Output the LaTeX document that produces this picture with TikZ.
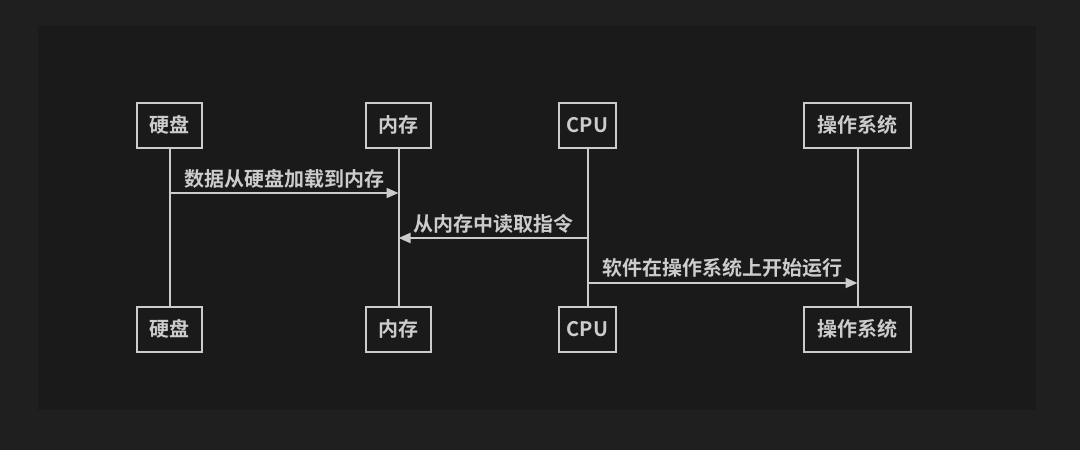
\documentclass[tikz,border=0pt]{standalone}
\usepackage{fontspec}
\newfontfamily\cjk{Noto Sans CJK SC}[BoldFont={Noto Sans CJK SC Bold}]
\usetikzlibrary{positioning,arrows.meta}
\definecolor{bgout}{HTML}{1F1F1F}
\definecolor{bgin}{HTML}{1A1A1A}
\definecolor{ink}{HTML}{CCCCCC}
\tikzset{actor/.style={draw=ink,line width=2pt,fill=bgin,text=ink,minimum height=45pt,inner xsep=0pt,inner ysep=0pt,font=\cjk\bfseries\fontsize{20}{22}\selectfont}}
\tikzset{life/.style={draw=ink,line width=2pt}}
\tikzset{msg/.style={draw=ink,line width=2pt,-{Triangle[length=12pt,width=10pt]}}}
\tikzset{msglabel/.style={above,inner sep=4pt,text=ink,font=\cjk\bfseries\fontsize{20}{22}\selectfont}}

\begin{document}
\begin{tikzpicture}[x=1pt,y=-1pt]
	\fill[bgout] (0,0) rectangle (1080,450);
	\fill[bgin] (38,26) rectangle (1036,410);

	% participants, top row
	\node[actor,minimum width=65pt] (hd) at (169.5,125) {硬盘};
	\node[actor,minimum width=65pt] (mem) at (398.5,125) {内存};
	\node[actor,minimum width=57pt] (cpu) at (587.5,125) {CPU};
	\node[actor,minimum width=107pt] (os) at (857.5,125) {操作系统};
	% participants, bottom row
	\node[actor,minimum width=65pt,below=157pt of hd] (hdb) {硬盘};
	\node[actor,minimum width=65pt,below=157pt of mem] (memb) {内存};
	\node[actor,minimum width=57pt,below=157pt of cpu] (cpub) {CPU};
	\node[actor,minimum width=107pt,below=157pt of os] (osb) {操作系统};

	\draw[life] (hd) -- (hdb);
	\draw[life] (mem) -- (memb);
	\draw[life] (cpu) -- (cpub);
	\draw[life] (os) -- (osb);

	\coordinate (m1a) at (hd |- 0,193);
	\coordinate (m1b) at (mem |- 0,193);
	\coordinate (m2a) at (cpu |- 0,238);
	\coordinate (m2b) at (mem |- 0,238);
	\coordinate (m3a) at (cpu |- 0,283);
	\coordinate (m3b) at (os |- 0,283);

	\draw[msg] (m1a) -- node[msglabel] {数据从硬盘加载到内存} (m1b);
	\draw[msg] (m2a) -- node[msglabel] {从内存中读取指令} (m2b);
	\draw[msg] (m3a) -- node[msglabel] {软件在操作系统上开始运行} (m3b);
\end{tikzpicture}
\end{document}
